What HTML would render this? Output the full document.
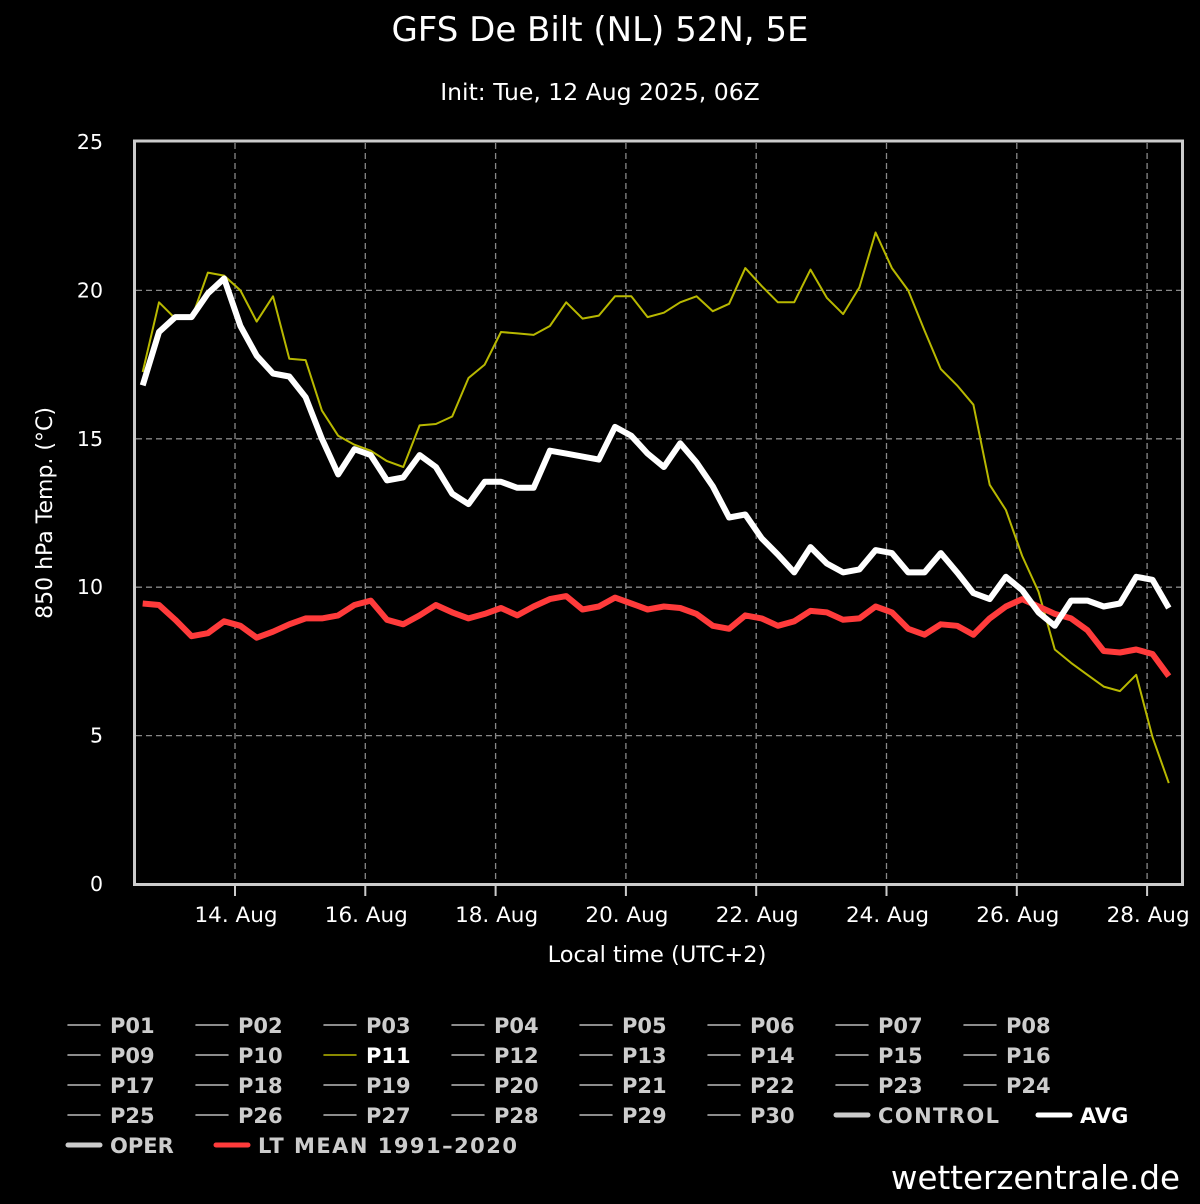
<!DOCTYPE html>
<html><head><meta charset="utf-8">
<style>
body{margin:0;background:#000;width:1200px;height:1200px;overflow:hidden;font-family:"DejaVu Sans","Liberation Sans",sans-serif;}
svg text{font-family:"DejaVu Sans","Liberation Sans",sans-serif;}
</style></head><body>
<svg id="chart" width="1200" height="1200" xmlns="http://www.w3.org/2000/svg">
<rect width="1200" height="1200" fill="#000"/>
<text x="600" y="41" fill="#fff" font-size="34" text-anchor="middle">GFS De Bilt (NL) 52N, 5E</text>
<text x="600" y="100" fill="#fff" font-size="23.5" text-anchor="middle">Init: Tue, 12 Aug 2025, 06Z</text>
<g id="grid"></g>
<rect x="134.5" y="141" width="1048" height="743.5" fill="none" stroke="#ccc" stroke-width="3"/>
<g id="series"></g>
<text transform="translate(52,513) rotate(-90)" fill="#fff" font-size="22" text-anchor="middle">850 hPa Temp. (°C)</text>
<text x="657" y="962" fill="#fff" font-size="22.5" text-anchor="middle">Local time (UTC+2)</text>
<g id="legend"></g>
<text x="1180" y="1189" fill="#fff" font-size="32.5" text-anchor="end">wetterzentrale.de</text>
</svg>
<script>
const yTicks=[0,5,10,15,20,25];
const xTickLabels=["14. Aug","16. Aug","18. Aug","20. Aug","22. Aug","24. Aug","26. Aug","28. Aug"];
const xTickDays=[0,2,4,6,8,10,12,14];
const avgValues=[16.8,18.6,19.1,19.1,19.9,20.4,18.8,17.8,17.2,17.1,16.4,15.0,13.8,14.65,14.45,13.6,13.7,14.45,14.05,13.15,12.8,13.55,13.55,13.35,13.35,14.6,14.5,14.4,14.3,15.4,15.1,14.5,14.05,14.85,14.2,13.4,12.35,12.45,11.65,11.1,10.5,11.35,10.8,10.5,10.6,11.25,11.15,10.5,10.5,11.15,10.5,9.8,9.6,10.35,9.9,9.15,8.7,9.55,9.55,9.35,9.45,10.35,10.25,9.3];
const p11Values=[17.25,19.6,19.05,19.05,20.6,20.5,20.0,18.95,19.8,17.7,17.65,15.95,15.1,14.8,14.6,14.25,14.05,15.45,15.5,15.75,17.05,17.5,18.6,18.55,18.5,18.8,19.6,19.05,19.15,19.8,19.8,19.1,19.25,19.6,19.8,19.3,19.55,20.75,20.15,19.6,19.6,20.7,19.75,19.2,20.1,21.95,20.75,20.0,18.65,17.35,16.8,16.15,13.45,12.6,11.05,9.85,7.9,7.45,7.05,6.65,6.5,7.05,4.95,3.4];
const ltMeanValues=[9.45,9.4,8.9,8.35,8.45,8.85,8.7,8.3,8.5,8.75,8.95,8.95,9.05,9.4,9.55,8.9,8.75,9.05,9.4,9.15,8.95,9.1,9.3,9.05,9.35,9.6,9.7,9.25,9.35,9.65,9.45,9.25,9.35,9.3,9.1,8.7,8.6,9.05,8.95,8.7,8.85,9.2,9.15,8.9,8.95,9.35,9.15,8.6,8.4,8.75,8.7,8.4,8.95,9.35,9.6,9.35,9.1,8.95,8.55,7.85,7.8,7.9,7.75,7.0];
const legendLabels=["P01","P02","P03","P04","P05","P06","P07","P08","P09","P10","P11","P12","P13","P14","P15","P16","P17","P18","P19","P20","P21","P22","P23","P24","P25","P26","P27","P28","P29","P30","CONTROL","AVG","OPER","LT MEAN 1991–2020"];

const NS="http://www.w3.org/2000/svg";
const yScale=v=>884-v*29.68;
const xDay=d=>235+d*65.15;
const xIdx=i=>xDay(-34/24+i*0.25);
function mk(tag,parent){const e=document.createElementNS(NS,tag);parent.appendChild(e);return e;}
const grid=document.getElementById('grid');
yTicks.forEach(v=>{
  if(v>0&&v<25){const l=mk('line',grid);
  
  
  l.setAttribute('x1',136);l.setAttribute('x2',1181);l.setAttribute('y1',yScale(v));l.setAttribute('y2',yScale(v));
  l.setAttribute('stroke','#888');l.setAttribute('stroke-dasharray','6,4');l.setAttribute('stroke-width','1.3');}
  const t=mk('text',grid);
  
  
  t.setAttribute('x',103);t.setAttribute('y',yScale(v)+7);t.setAttribute('fill','#fff');t.setAttribute('font-size','20.5');t.setAttribute('text-anchor','end');t.textContent=v;
});
xTickDays.forEach((d,k)=>{
  const l=mk('line',grid);
  
  
  l.setAttribute('x1',xDay(d));l.setAttribute('x2',xDay(d));l.setAttribute('y1',143);l.setAttribute('y2',883);
  l.setAttribute('stroke','#888');l.setAttribute('stroke-dasharray','6,4');l.setAttribute('stroke-width','1.3');
  const tk=mk('line',grid);
  
  
  tk.setAttribute('x1',xDay(d));tk.setAttribute('x2',xDay(d));tk.setAttribute('y1',884);tk.setAttribute('y2',896);tk.setAttribute('stroke','#ccc');tk.setAttribute('stroke-width','2');
  const t=mk('text',grid);
  
  
  t.setAttribute('x',xDay(d)+1);t.setAttribute('y',922);t.setAttribute('fill','#fff');t.setAttribute('font-size','21.5');t.setAttribute('text-anchor','middle');t.textContent=xTickLabels[k];
});
const series=document.getElementById('series');
function line(vals,color,w,name){
  const p=mk('polyline',series);
  
  
  p.setAttribute('points',vals.map((v,i)=>xIdx(i).toFixed(1)+','+yScale(v).toFixed(1)).join(' '));
  p.setAttribute('fill','none');p.setAttribute('stroke',color);p.setAttribute('stroke-width',w);p.setAttribute('stroke-linejoin','round');
}
line(p11Values,'#b8b800',2,'p11-line');
line(ltMeanValues,'#ff3b3b',6,'lt-mean-line');
line(avgValues,'#ffffff',6,'avg-line');

const legend=document.getElementById('legend');
const specialX={"CONTROL":836,"AVG":1038,"OPER":68,"LT MEAN 1991–2020":216};
const specialLen={"CONTROL":121,"LT MEAN 1991–2020":259};
legendLabels.forEach((lab,i)=>{
  const r=Math.floor(i/8),c=i%8;
  let x=68+c*128;const y=1025+r*30;
  if(specialX[lab]!==undefined)x=specialX[lab];
  let color='#bbb',w=1.5,tcol='#ccc';
  if(lab==='P11'){color='#b8b800';tcol='#fff';}
  if(lab==='CONTROL'){w=5;color='#ccc';}
  if(lab==='AVG'){w=5;color='#fff';tcol='#fff';}
  if(lab==='OPER'){w=5;color='#ccc';}
  if(lab.startsWith('LT')){w=5;color='#ff3b3b';}
  const g=mk('g',legend);
  
  
  const l=mk('line',g);
  l.setAttribute('x1',x);l.setAttribute('x2',x+32);l.setAttribute('y1',y);l.setAttribute('y2',y);l.setAttribute('stroke',color);l.setAttribute('stroke-width',w);l.setAttribute('stroke-linecap','round');
  const t=mk('text',g);
  t.setAttribute('x',x+42);t.setAttribute('y',y+8);t.setAttribute('fill',tcol);t.setAttribute('font-size','21');t.setAttribute('font-weight','bold');
  if(specialLen[lab]){t.setAttribute('textLength',specialLen[lab]);t.setAttribute('lengthAdjust','spacing');}
  t.textContent=lab;
});
</script>
</body></html>
